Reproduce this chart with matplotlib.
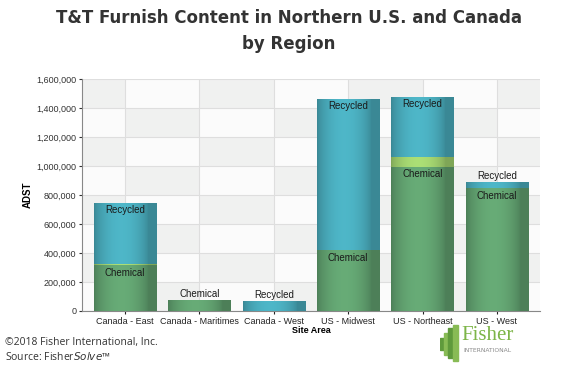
import numpy as np
import matplotlib.pyplot as plt
from matplotlib.patches import Rectangle
from matplotlib.colors import to_rgb

# values (ADST)
regions = ["Canada - East", "Canada - Maritimes", "Canada - West",
           "US - Midwest", "US - Northeast", "US - West"]
chemical = [315000, 76000, 0, 418000, 993000, 845000]
other = [6000, 0, 0, 6000, 69000, 6000]
recycled = [425000, 0, 69000, 1038000, 414000, 40000]

c_chem = "#5e9c6c"
c_other = "#9ccb6b"
c_rec = "#47a6b6"
axfont = "Liberation Sans"

fig = plt.figure(figsize=(5.67, 3.66), dpi=100)
ax = fig.add_axes([82 / 567, 1 - 311 / 366, 458 / 567, 232 / 366])

x = np.arange(len(regions))
w = 0.84
bottom2 = np.array(chemical) + np.array(other)
b1 = ax.bar(x, chemical, w, color=c_chem, linewidth=0, zorder=3)
b2 = ax.bar(x, other, w, bottom=chemical, color=c_other, linewidth=0, zorder=3)
b3 = ax.bar(x, recycled, w, bottom=bottom2, color=c_rec, linewidth=0, zorder=3)


def shade(bars, col):
    # soft horizontal gradient across each bar
    base = np.array(to_rgb(col))
    t = np.linspace(0, 1, 64)
    f = 0.82 + 0.28 * np.sin(np.pi * np.clip(t * 1.15, 0, 1)) ** 0.7
    img = np.clip(base[None, :] * f[:, None], 0, 1)[None, :, :]
    for p in bars:
        if p.get_height() <= 0:
            continue
        x0, y0 = p.get_x(), p.get_y()
        im = ax.imshow(img, extent=(x0, x0 + p.get_width(), y0, y0 + p.get_height()),
                       aspect="auto", zorder=3.1, interpolation="bilinear")
        im.set_clip_path(p)


shade(b1, c_chem)
shade(b2, c_other)
shade(b3, c_rec)

# labels inside / above segments
for i in range(len(regions)):
    top = bottom2[i] + recycled[i]
    if chemical[i] > 0:
        if chemical[i] > 200000:
            ax.text(x[i], chemical[i] - 15000, "Chemical", ha="center", va="top",
                    fontsize=7, color="#1a1a1a", zorder=4, family=axfont)
        else:
            ax.text(x[i], chemical[i] + 5000, "Chemical", ha="center", va="bottom",
                    fontsize=7, color="#1a1a1a", zorder=4, family=axfont)
    if recycled[i] > 0:
        if recycled[i] > 200000:
            ax.text(x[i], top - 15000, "Recycled", ha="center", va="top",
                    fontsize=7, color="#1a1a1a", zorder=4, family=axfont)
        else:
            ax.text(x[i], top + 5000, "Recycled", ha="center", va="bottom",
                    fontsize=7, color="#1a1a1a", zorder=4, family=axfont)

ax.set_xlim(-0.58, len(regions) - 0.42)
ax.set_ylim(0, 1600000)

# checkered background, cells bounded by the gridlines
for j in range(8):
    for i in range(-1, len(regions)):
        if (i + j) % 2 == 0:
            col = "#f0f1f0"
        else:
            col = "#fbfbfb"
        ax.add_patch(Rectangle((i, j * 200000), 1, 200000, color=col,
                               linewidth=0, zorder=0))
ax.set_yticks(np.arange(0, 1600001, 200000))
ax.set_yticklabels([f"{v:,}" for v in range(0, 1600001, 200000)], family=axfont)
ax.set_xticks(x)
ax.set_xticklabels(regions, family=axfont)
ax.grid(True, color="#dedede", linewidth=0.8, zorder=1)
ax.tick_params(axis="y", labelsize=6.5, colors="#333333", length=2, pad=2)
ax.tick_params(axis="x", labelsize=6.5, colors="#222222", length=2, pad=2)
for s in ["top", "right"]:
    ax.spines[s].set_visible(False)
ax.spines["left"].set_color("#888888")
ax.spines["bottom"].set_color("#888888")

ax.set_ylabel("ADST", fontsize=7, fontweight="bold", family=axfont)
ax.yaxis.set_label_coords(-0.108, 0.5)
ax.set_xlabel("Site Area", fontsize=6.5, fontweight="bold", labelpad=0, family=axfont)

fig.text(0.51, 1 - 31 / 366, "T&T Furnish Content in Northern U.S. and Canada\nby Region",
         ha="center", va="center", fontsize=12, fontweight="bold", color="#333333",
         linespacing=1.6)

fig.text(5 / 567, 1 - 342 / 366, "\u00a92018 Fisher International, Inc.", fontsize=7.5,
         color="#333333", va="center", family="Open Sans")
fig.text(5 / 567, 1 - 357 / 366, "Source: Fisher$\\it{Solve}$\u2122", fontsize=7.5,
         color="#333333", va="center", family="Open Sans")

# logo
lax = fig.add_axes([440 / 567, 0, 127 / 567, 50 / 366])
lax.set_xlim(0, 127)
lax.set_ylim(50, 0)
lax.axis("off")
for k, (bx, by, bw, bh) in enumerate([(0, 22, 4, 12), (4, 17, 4, 22), (8, 12, 5, 30),
                                      (13, 9, 5, 36)]):
    lax.add_patch(Rectangle((bx, by), bw, bh, color="#88bb55" if k % 2 else "#5f9a3c"))
lax.text(21, 20, "Fisher", fontsize=15, color="#7db548", family="Liberation Serif",
         va="center")
lax.text(23, 35, "INTERNATIONAL", fontsize=4.3, color="#888888", va="center")

fig.savefig("out.png", dpi=100)
